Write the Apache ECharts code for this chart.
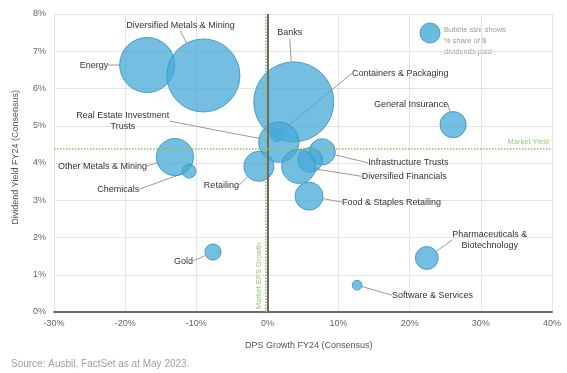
<!DOCTYPE html>
<html><head><meta charset="utf-8">
<script src="https://cdn.jsdelivr.net/npm/echarts@6/dist/echarts.min.js"></script>
<style>html,body{margin:0;padding:0;background:#fff}#c{width:567px;height:373px}</style>
</head><body><div id="c"></div>
<script>
// Data
const sectors = ['Energy','Diversified Metals & Mining','Banks','Containers & Packaging','Real Estate Investment\nTrusts','General Insurance','Infrastructure Trusts','','Diversified Financials','Retailing','Other Metals & Mining','Chemicals','Food & Staples Retailing','Gold','Pharmaceuticals &\nBiotechnology','Software & Services'];
const dpsGrowth = [-16.9,-9.0,3.7,1.35,1.6,26.1,7.7,6.0,4.4,-1.2,-13.0,-11.0,5.85,-7.65,22.4,12.6];
const divYield  = [6.63,6.35,5.64,4.75,4.56,5.03,4.30,4.08,3.91,3.91,4.16,3.78,3.11,1.61,1.45,0.72];
const divShare  = [12.8,22.5,27,0.7,6.8,2.9,2.9,2.6,4.9,3.8,5.8,0.8,3.3,1.1,2.2,0.4];
const marketYield = 4.37;
const marketEpsGrowth = -0.2;
const xTickMin = -30, xTickMax = 40, xTickStep = 10;
const yTickMin = 0, yTickMax = 8, yTickStep = 1;

// label placement (offset from bubble centre, px) - styling only
const labelPlace = [
  [-39,0,'right'],[-23,-50,'center'],[-4,-69,'center'],[75,-62,'left'],[-156,-21,'center'],
  [-42,-20,'center'],[46,11,'left'],[0,0,'center'],[63,10,'left'],[-20,19,'right'],
  [-28,9,'right'],[-50,18,'right'],[33,6,'left'],[-20,9,'right'],[63,-18,'center'],[35,10,'left']
];

const FONT = '"Liberation Sans", Arial, sans-serif';
const sizeOf = s => 80 * Math.sqrt(s / 27);

const data = sectors.map((n, i) => ({
  name: n, value: [dpsGrowth[i], divYield[i], divShare[i]],
  label: { show: n !== '' }, labelLine: { show: n !== '' }
}));

const chart = echarts.init(document.getElementById('c'), null, {renderer: 'canvas'});
chart.setOption({
  animation: false,
  textStyle: { fontFamily: FONT },
  grid: { left: 54, right: 15, top: 14, bottom: 61 },
  xAxis: {
    type: 'value', min: xTickMin, max: xTickMax, interval: xTickStep,
    axisLine: { onZero: false, lineStyle: { color: '#6b6b6b', width: 2 } },
    axisTick: { show: false },
    axisLabel: { color: '#666', fontSize: 9, margin: 7, formatter: v => v + '%' },
    splitLine: { lineStyle: { color: '#e4e4e4' } }
  },
  yAxis: {
    type: 'value', min: yTickMin, max: yTickMax, interval: yTickStep,
    axisLine: { show: false }, axisTick: { show: false },
    axisLabel: { color: '#666', fontSize: 9, margin: 8, formatter: v => v + '%' },
    splitLine: { lineStyle: { color: '#e4e4e4' } }
  },
  graphic: [
    { type: 'text', left: 245, top: 341, style: { text: 'DPS Growth FY24 (Consensus)', fill: '#555', font: '9px ' + FONT } },
    { type: 'text', left: 11, top: 90, rotation: Math.PI / 2, originX: 0, originY: 0,
      style: { text: 'Dividend Yield FY24 (Consensus)', fill: '#555', font: '9px ' + FONT, x: 0, y: 0 },
      x: 11, y: 235, rotation: Math.PI / 2 },
    { type: 'text', left: 11, top: 359, style: { text: 'Source: Ausbil, FactSet as at May 2023.', fill: '#a0a0a0', font: '10px ' + FONT } },
    { type: 'circle', shape: { cx: 430, cy: 33, r: 10 }, style: { fill: 'rgba(70,170,215,0.8)', stroke: 'rgba(60,150,200,0.9)', lineWidth: 1 } },
    { type: 'text', left: 444, top: 24, style: { text: 'Bubble size shows\n% share of $\ndividends paid', fill: '#9a9a9a', font: '7.5px ' + FONT, lineHeight: 11 } }
  ],
  series: [
    {
      type: 'scatter', z: 1, silent: true, data: [],
      markLine: {
        symbol: 'none', silent: true, animation: false,
        data: [
          { xAxis: 0, lineStyle: { color: '#6b6b6b', width: 2, type: 'solid' }, label: { show: false } },
          { xAxis: marketEpsGrowth, lineStyle: { color: '#8cbf5a', width: 1.5, type: [1.5, 1.5] },
            label: { show: true, formatter: 'Market EPS Growth', position: 'insideStartTop', color: '#9cc77a', fontSize: 7.5, distance: 3 } },
          { yAxis: marketYield, lineStyle: { color: '#8cbf5a', width: 1.5, type: [1.5, 1.5] },
            label: { show: true, formatter: 'Market Yield', position: 'insideEndTop', color: '#9cc77a', fontSize: 7.5, distance: 3 } }
        ]
      }
    },
    {
      type: 'scatter', z: 3,
      data: data,
      symbolSize: v => sizeOf(v[2]),
      itemStyle: { color: 'rgba(70,170,215,0.75)', borderColor: 'rgba(60,150,200,0.9)', borderWidth: 1, opacity: 1 },
      label: { show: true, formatter: p => p.name, color: '#333', fontSize: 9, lineHeight: 11, position: 'inside' },
      labelLine: { show: true, lineStyle: { color: '#9a9a9a', width: 1 } },
      labelLayout: p => {
        const pl = labelPlace[p.dataIndex];
        const cx = p.rect.x + p.rect.width / 2, cy = p.rect.y + p.rect.height / 2;
        return { x: cx + pl[0], y: cy + pl[1], align: pl[2], verticalAlign: 'middle' };
      }
    }
  ]
});
</script></body></html>
